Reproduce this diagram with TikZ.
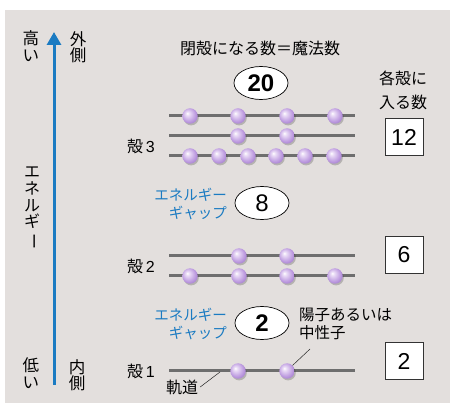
\documentclass[tikz,border=0pt]{standalone}
\usepackage{fontspec}
\setmainfont{Noto Sans CJK JP}
\newfontfamily\digitfont{Liberation Sans}
\usetikzlibrary{arrows.meta,shapes.geometric}
\definecolor{bgc}{HTML}{E3DFDD}
\definecolor{bluec}{HTML}{1B7BC2}
\definecolor{orbc}{HTML}{6E6E6E}
\definecolor{ballhi}{HTML}{EADCF6}
\definecolor{ballmid}{HTML}{BE9CE0}
\definecolor{balldark}{HTML}{9068BE}
\pgfdeclareradialshading{mybshade}{\pgfpoint{-9bp}{9bp}}{color(0bp)=(white); color(6bp)=(ballhi); color(22bp)=(ballmid); color(38bp)=(balldark); color(50bp)=(balldark)}
\tikzset{
  orbit/.style={draw=orbc, line width=3pt},
  ballnode/.style={circle, minimum size=15.5pt, inner sep=0pt, shading=mybshade},
  ballshadow/.style={fill=black, opacity=0.2},
  numell/.style={ellipse, draw=black, line width=0.7pt, fill=white, minimum width=54pt, minimum height=33pt, inner sep=0pt, font=\digitfont\fontsize{24}{24}\selectfont},
  numbox/.style={rectangle, draw=black!80, line width=0.7pt, fill=white, minimum width=38pt, minimum height=37pt, inner sep=0pt, font=\digitfont\fontsize{23}{23}\selectfont},
  lbl/.style={inner sep=0pt, font=\fontsize{16}{16}\selectfont, text=black},
  gaplbl/.style={inner sep=0pt, align=right, text=bluec, font=\fontsize{14.5}{18}\selectfont},
  vlbl/.style={inner sep=0pt, align=center, text=black, font=\fontsize{16.5}{16.5}\selectfont},
  leader/.style={draw=black!85, line width=0.5pt},
}
\newcommand{\mkball}[3]{%
  \fill[ballshadow] (#1+1.2,#2+1.8) circle (7.6pt);
  \node[ballnode] (#3) at (#1,#2) {};
}
\begin{document}
\begin{tikzpicture}[x=1pt,y=-1pt]
\useasboundingbox (0,0) rectangle (450,403);
\fill[bgc] (5,10) rectangle (450,403);

% axis arrow
\coordinate (abot) at (54,385);
\coordinate (atop) at (54,32);
\draw[bluec, line width=3pt, -{Triangle[width=14pt,length=13pt]}] (abot) -- (atop);

\node[vlbl] (high) at (31,46) {高\\い};
\node[vlbl] (outer) at (78,47) {外\\側};
\node[vlbl] (low) at (31,373) {低\\い};
\node[vlbl] (inner) at (77,375) {内\\側};
\node[vlbl, font=\fontsize{16}{16.8}\selectfont] (energy) at (32,208) {エ\\ネ\\ル\\ギ\\\rotatebox[origin=c]{-90}{ー}};

% title
\node[lbl] (title) at (260,48) {閉殻になる数＝魔法数};
\node[lbl, align=center, font=\fontsize{16}{24}\selectfont] (each) at (403,90) {各殻に\\入る数};

% ellipses
\node[numell] (e20) at (261,83) {\bfseries 20};
\node[numell] (e8) at (262,203) {8};
\node[numell] (e2) at (262,323) {\bfseries 2};

% boxes
\node[numbox] (n12) at (404,137) {12};
\node[numbox] (n6) at (404,255) {6};
\node[numbox] (n2) at (404,361) {2};

% gap labels
\node[gaplbl, anchor=east] (gap8) at (227,204) {エネルギー\\ギャップ};
\node[gaplbl, anchor=east] (gap2) at (227,324) {エネルギー\\ギャップ};

% shell labels
\node[lbl, anchor=east] (s3) at (155,146) {殻\,{\digitfont 3}};
\node[lbl, anchor=east] (s2) at (155,266) {殻\,{\digitfont 2}};
\node[lbl, anchor=east] (s1) at (155,371) {殻\,{\digitfont 1}};

% orbits shell 3
\draw[orbit] (169,116) -- (355,116);
\draw[orbit] (169,136) -- (355,136);
\draw[orbit] (169,156) -- (355,156);
\mkball{190}{116}{b3a}
\mkball{238}{116}{b3b}
\mkball{287}{116}{b3c}
\mkball{335}{116}{b3d}
\mkball{238}{136}{b3e}
\mkball{287}{136}{b3f}
\mkball{190}{156}{b3g}
\mkball{219}{156}{b3h}
\mkball{248}{156}{b3i}
\mkball{276}{156}{b3j}
\mkball{305}{156}{b3k}
\mkball{334}{156}{b3l}

% orbits shell 2
\draw[orbit] (169,256) -- (355,256);
\draw[orbit] (169,276) -- (355,276);
\mkball{239}{256}{b2a}
\mkball{287}{256}{b2b}
\mkball{190}{276}{b2c}
\mkball{239}{276}{b2d}
\mkball{287}{276}{b2e}
\mkball{335}{276}{b2f}

% orbit shell 1
\draw[orbit] (169,371) -- (355,371);
\mkball{238}{371}{b1a}
\mkball{287}{371}{b1b}

% annotations
\node[lbl, inner sep=2pt] (kido) at (182,387) {軌道};
\coordinate (orbpt) at (220,372);
\draw[leader] (kido.east) -- (orbpt);

\node[lbl, align=left, anchor=west, font=\fontsize{15.5}{18}\selectfont] (proton) at (299,324) {陽子あるいは\\中性子};
\coordinate (ppt) at (310,349);
\draw[leader] (ppt) -- (b1b.north east);
\end{tikzpicture}
\end{document}
